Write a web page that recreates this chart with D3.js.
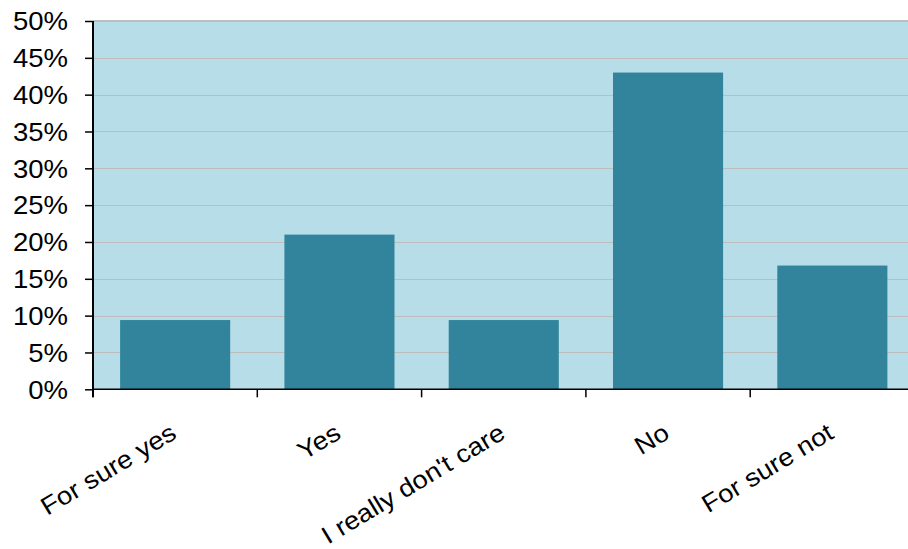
<!DOCTYPE html>
<html>
<head>
<meta charset="utf-8">
<script src="https://cdn.jsdelivr.net/npm/d3@7"></script>
<style>
  html, body { margin: 0; padding: 0; background: #ffffff; }
  svg { display: block; }
  text { font-family: "Liberation Sans", Arial, sans-serif; fill: #000; }
</style>
</head>
<body>
<svg id="chart" width="908" height="549"></svg>
<script>
// Survey answers and their share of respondents (%)
const categories = ["For sure yes", "Yes", "I really don't care", "No", "For sure not"];
const shares = [9.4, 21.0, 9.4, 43.0, 16.8];
const yTicks = [0, 5, 10, 15, 20, 25, 30, 35, 40, 45, 50];

const svg = d3.select("#chart");
const margin = { left: 93, top: 21 };
const plotW = 821.5;
const plotH = 368.3;

const g = svg.append("g").attr("transform", `translate(${margin.left},${margin.top})`);

const x = d3.scaleBand()
  .domain(categories)
  .range([0, plotW])
  .paddingInner(0.33)
  .paddingOuter(0.165);

const y = d3.scaleLinear().domain([0, 50]).range([plotH, 0]);

// plot background
g.append("rect")
  .attr("x", 0).attr("y", 0)
  .attr("width", plotW).attr("height", plotH)
  .attr("fill", "#B6DDE8");

// horizontal gridlines
g.append("g")
  .selectAll("line")
  .data(yTicks.filter(t => t > 0 && t < 50))
  .join("line")
  .attr("x1", 0).attr("x2", plotW)
  .attr("y1", d => Math.round(y(d)) + 0.5)
  .attr("y2", d => Math.round(y(d)) + 0.5)
  .attr("stroke", "#BDBDBD")
  .attr("stroke-width", 1);

// top border of the plot area
g.append("line")
  .attr("x1", 0).attr("x2", plotW)
  .attr("y1", y(50)).attr("y2", y(50))
  .attr("stroke", "#BDBDBD")
  .attr("stroke-width", 2);

// bars
g.append("g")
  .selectAll("rect")
  .data(categories.map((c, i) => ({ c, v: shares[i] })))
  .join("rect")
  .attr("x", d => x(d.c))
  .attr("width", x.bandwidth())
  .attr("y", d => y(d.v))
  .attr("height", d => y(0) - y(d.v))
  .attr("fill", "#31849B");

// y axis
const yAxis = d3.axisLeft(y)
  .tickValues(yTicks)
  .tickSize(8)
  .tickPadding(0)
  .tickFormat(d => d + "%");

const ya = g.append("g").call(yAxis);
ya.select(".domain").remove();
ya.selectAll(".tick line").attr("stroke", "#000").attr("stroke-width", 1.5);
ya.selectAll(".tick text")
  .attr("font-size", 25)
  .attr("x", -25 / 1.1)
  .attr("dy", "0.35em")
  .attr("transform", "scale(1.1,1)")
  .style("font-family", '"Liberation Sans", Arial, sans-serif');

// y axis line
g.append("line")
  .attr("x1", 0).attr("x2", 0)
  .attr("y1", 0).attr("y2", plotH + 8)
  .attr("stroke", "#000")
  .attr("stroke-width", 2);

// x axis line
g.append("line")
  .attr("x1", 0).attr("x2", plotW)
  .attr("y1", plotH).attr("y2", plotH)
  .attr("stroke", "#000")
  .attr("stroke-width", 1.5);

// category boundary ticks
const step = x.step();
g.append("g")
  .selectAll("line")
  .data(categories)
  .join("line")
  .attr("x1", d => x(d) - step * x.paddingOuter())
  .attr("x2", d => x(d) - step * x.paddingOuter())
  .attr("y1", plotH).attr("y2", plotH + 8)
  .attr("stroke", "#000")
  .attr("stroke-width", 1.5);

// rotated category labels
g.append("g")
  .selectAll("text")
  .data(categories)
  .join("text")
  .attr("text-anchor", "end")
  .attr("font-size", 25)
  .attr("transform", d => `translate(${x(d) + x.bandwidth() / 2 + 3},${plotH + 48}) rotate(-31) scale(1.1,1)`)
  .text(d => d);
</script>
</body>
</html>
